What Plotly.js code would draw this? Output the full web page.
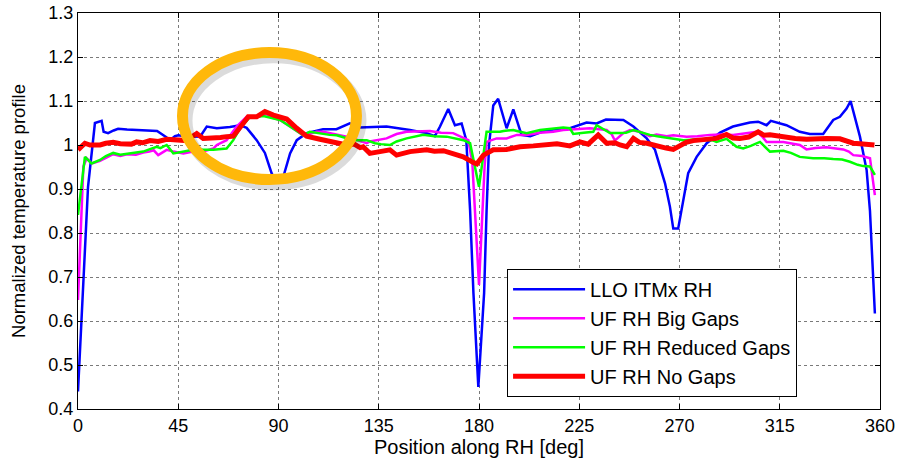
<!DOCTYPE html>
<html>
<head>
<meta charset="utf-8">
<script src="https://cdn.plot.ly/plotly-3.0.1.min.js"></script>
<style>html,body{margin:0;padding:0;background:#fff;}#chart{width:897px;height:465px;}</style>
</head>
<body>
<div id="chart"></div>
<script>
// ---- data ----
const seriesNames = ["LLO ITMx RH", "UF RH Big Gaps", "UF RH Reduced Gaps", "UF RH No Gaps"];

const lloX = [0,4.5,7.6,10.6,11.5,13.5,16,18,22,28,32,35.5,39.5,41.3,43.5,45,48,52,54.8,57.8,62.3,68.2,72.7,75.7,80.2,83.9,86.9,88,92,95.2,98.2,102.6,110,116,122,126.6,134,138.5,149,156.5,160.2,162.5,166.2,169.2,172.2,174.3,176,177.5,179.7,182.3,183.4,184.5,186.4,188.6,192.4,195.4,199.1,203,210.4,220.8,228.3,232.8,237,244.8,249.3,255.3,259,261.2,263.5,265.7,267.2,269.4,271.7,273.9,277.7,282.2,288.2,294,301.6,305.3,309.1,311,318,324,328.5,334.5,339,342,345,346.8,351,354,355.5,356.5,357.7];
const lloY = [0.44,0.905,1.05,1.055,1.03,1.027,1.033,1.037,1.035,1.034,1.034,1.032,1.018,1.011,1.02,1.022,1.02,1.02,1.019,1.042,1.038,1.041,1.045,1.039,1.011,0.982,0.936,0.925,0.925,0.981,1.011,1.027,1.036,1.036,1.049,1.04,1.041,1.042,1.034,1.027,1.02,1.042,1.082,1.045,1.049,1.011,0.852,0.664,0.45,0.664,0.85,1.0,1.09,1.105,1.038,1.081,1.023,1.02,1.034,1.038,1.051,1.049,1.058,1.057,1.042,1.015,0.989,0.951,0.913,0.86,0.81,0.81,0.875,0.936,0.973,1.004,1.028,1.042,1.051,1.053,1.045,1.055,1.045,1.03,1.025,1.025,1.057,1.064,1.083,1.1,1.019,0.943,0.85,0.746,0.617];

const bigX = [0,2.4,3.9,6.1,9.9,12.5,15.8,19,21.9,26,29.3,32,34,36,39.8,42.8,47.3,51.7,56,60.7,62.3,66.7,71.2,75.7,81.7,84.7,87,90.7,95.2,101.1,102.6,107.1,110.1,116.1,120.6,125,129.6,131,134,138.5,143,147.5,158,163,168.4,175.2,177,180,182.5,183.4,187.9,192.4,197,201.4,207.4,213.3,217.8,225,229.8,237.3,239.5,241,244.8,247.8,252.3,256.7,259.7,264.2,267.2,273.2,278,283.7,288,294.1,300,304.6,307,309.1,316.6,320,324,327,331,336,343.5,346,348,352,355.5,357.7];
const bigY = [0.648,0.951,0.97,0.958,0.964,0.97,0.979,0.975,0.979,0.978,0.983,0.985,0.988,0.977,0.989,0.985,0.981,0.985,0.985,0.992,1.0,1.011,1.042,1.064,1.066,1.07,1.062,1.057,1.042,1.022,1.023,1.03,1.03,1.023,1.019,1.012,1.004,1.008,1.011,1.015,1.025,1.03,1.032,1.028,1.027,1.011,0.96,0.682,0.95,1.007,1.015,1.015,1.023,1.023,1.028,1.03,1.034,1.036,1.038,1.034,1.025,1.01,1.027,1.034,1.03,1.02,1.024,1.02,1.022,1.019,1.02,1.023,1.024,1.023,1.026,1.03,1.02,1.007,1.007,1.003,1.0,0.99,0.993,0.995,0.99,0.985,0.977,0.975,0.97,0.886];

const redX = [0,3.1,6.1,9.9,12.5,15.8,19,21.9,26,29.3,32,35.3,37,39.8,42.8,48,51.7,57.8,60.7,66.7,69.7,73,77,83.2,87,90.7,95.2,101.1,104,107.1,113,116.1,120.6,123.6,129.6,133.3,136,140,143,147.5,155,160,165.5,173,176,180,183.4,185,189.4,191,195.4,197,201.4,207.4,212,217.8,220.8,222.3,227,231.3,232.8,236,238.8,243.3,246,249.3,253,256.7,260,265.7,271.7,279.2,285.2,286.6,291.1,295.6,298.6,302,304.6,306.1,310.6,316.6,320,324,330,335,339,343,346.5,350,352.5,355.5,357.7];
const redY = [0.841,0.973,0.958,0.966,0.975,0.982,0.978,0.98,0.983,0.985,0.99,0.996,0.993,1.0,0.981,0.985,0.989,0.989,0.989,0.992,1.011,1.04,1.062,1.066,1.062,1.057,1.042,1.022,1.03,1.027,1.023,1.022,1.015,1.011,1.011,1.004,1.002,1.0,1.008,1.015,1.023,1.02,1.019,1.011,1.004,0.905,1.03,1.03,1.03,1.032,1.034,1.032,1.027,1.034,1.036,1.04,1.038,1.025,1.028,1.03,1.045,1.036,1.027,1.027,1.028,1.034,1.028,1.023,1.02,1.015,1.011,1.013,1.01,1.007,1.014,0.996,0.992,0.998,1.004,1.007,0.985,0.987,0.982,0.973,0.97,0.97,0.968,0.967,0.962,0.955,0.952,0.951,0.932];

const noX = [0,1.5,3.1,5.4,9.9,12.5,15.8,19,21.9,24,26.3,29,32.3,36,39.8,44.3,47,49,51.5,53.3,56.2,60.7,64,66.7,69.7,73.5,76.4,80.2,83.9,87.7,90.5,93.7,98.2,102.6,108.6,114.6,120.6,124,126.6,128,131,135.5,140,143,149,156.5,160,164,168.4,172.9,177.5,179,182,186.4,192.4,198.4,204.4,210.4,215,220.8,225.3,229,233.5,237.3,241,243.3,246.3,249.3,252,255.3,258,261.2,264,267.2,270.2,273,276.2,279.2,282.2,286.6,291.1,294,297.1,301,305.3,308,310.6,314,318,322,327,331,336,342,345,348,351,354,357.5];
const noY = [0.989,0.995,1.004,1.0,1.0,1.004,1.006,1.003,1.004,1.002,1.007,1.005,1.01,1.008,1.013,1.011,1.01,1.01,1.02,1.026,1.015,1.015,1.017,1.019,1.02,1.045,1.064,1.064,1.076,1.068,1.064,1.059,1.038,1.02,1.013,1.007,1.0,1.002,0.994,0.996,0.981,0.985,0.989,0.977,0.985,0.989,0.986,0.987,0.981,0.973,0.96,0.957,0.977,0.989,0.99,0.996,0.998,1.0,1.003,0.998,1.007,1.002,1.023,1.004,1.005,1.0,0.996,1.015,1.006,1.004,1.0,0.998,0.993,0.99,1.0,1.006,1.01,1.011,1.013,1.015,1.024,1.016,1.015,1.018,1.03,1.022,1.023,1.02,1.017,1.015,1.013,1.015,1.015,1.014,1.01,1.004,1.003,1.002,1.0];

const xTickVals = [0,45,90,135,180,225,270,315,360];
const xTickText = ["0","45","90","135","180","225","270","315","360"];
const yTickVals = [0.4,0.5,0.6,0.7,0.8,0.9,1.0,1.1,1.2,1.3];
const yTickText = ["0.4","0.5","0.6","0.7","0.8","0.9","1","1.1","1.2","1.3"];

// ---- chart ----
const FONT = "Liberation Sans, Arial, sans-serif";
const traces = [
  {x: lloX, y: lloY, name: seriesNames[0], mode: "lines", line: {color: "#0000FF", width: 2.5}},
  {x: bigX, y: bigY, name: seriesNames[1], mode: "lines", line: {color: "#FF00FF", width: 2.5}},
  {x: redX, y: redY, name: seriesNames[2], mode: "lines", line: {color: "#00FF00", width: 2.5}},
  {x: noX,  y: noY,  name: seriesNames[3], mode: "lines", line: {color: "#FF0000", width: 5}}
];

const axisCommon = {
  showline: true, linecolor: "#000", linewidth: 1.2, mirror: "ticks",
  ticks: "inside", ticklen: 5, tickcolor: "#000", tickwidth: 1,
  showgrid: true, gridcolor: "#7a7a7a", griddash: "dot", gridwidth: 1,
  zeroline: false, tickfont: {family: FONT, size: 18, color: "#000"}
};

const layout = {
  width: 897, height: 465,
  margin: {l: 78, r: 17, t: 13, b: 56},
  paper_bgcolor: "#fff", plot_bgcolor: "#fff",
  showlegend: true,
  xaxis: Object.assign({}, axisCommon, {
    range: [0, 360], tickmode: "array", tickvals: xTickVals, ticktext: xTickText,
    title: {text: "Position along RH [deg]", font: {family: FONT, size: 20, color: "#000"}, standoff: 5}
  }),
  yaxis: Object.assign({}, axisCommon, {
    range: [0.4, 1.3], tickmode: "array", tickvals: yTickVals, ticktext: yTickText,
    title: {text: "Normalized temperature profile", font: {family: FONT, size: 18.5, color: "#000"}, standoff: 17}
  }),
  legend: {
    x: 0.535, y: 0.354, xanchor: "left", yanchor: "top",
    bgcolor: "#fff", bordercolor: "#000", borderwidth: 1,
    font: {family: FONT, size: 20, color: "#000"},
    itemwidth: 72, tracegroupgap: 0
  },
  shapes: [
    {type: "circle", xref: "x", yref: "y", layer: "above",
     x0: 48.7, x1: 126.8, y0: 0.9106, y1: 1.1992,
     line: {color: "rgba(0,0,0,0.14)", width: 12}},
    {type: "circle", xref: "x", yref: "y", layer: "above",
     x0: 46.9, x1: 125.0, y0: 0.9216, y1: 1.2102,
     line: {color: "#FFB80A", width: 11}}
  ]
};

Plotly.newPlot("chart", traces, layout, {staticPlot: true, displayModeBar: false});
</script>
</body>
</html>
